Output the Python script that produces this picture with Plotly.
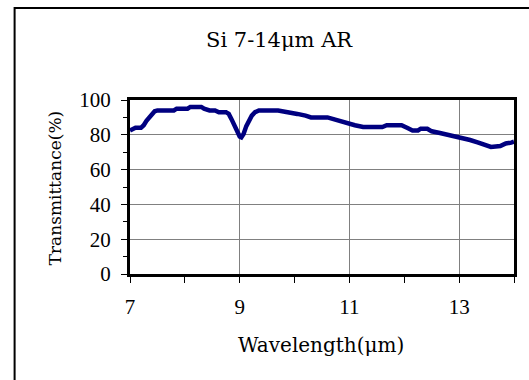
import plotly.graph_objects as go

# Transmission spectrum of an AR-coated silicon window
wavelength = [7.00, 7.05, 7.10, 7.20, 7.25, 7.30, 7.38, 7.45, 7.50, 7.80, 7.85, 8.05,
              8.10, 8.30, 8.35, 8.45, 8.55, 8.62, 8.75, 8.80, 8.85, 8.90, 8.95, 9.00,
              9.03, 9.07, 9.12, 9.17, 9.22, 9.28, 9.35, 9.70, 9.80, 9.95, 10.05, 10.20,
              10.30, 10.60, 10.70, 10.85, 11.00, 11.10, 11.25, 11.60, 11.68, 11.95, 12.05,
              12.15, 12.25, 12.30, 12.42, 12.50, 12.65, 12.80, 12.95, 13.10, 13.20, 13.35,
              13.50, 13.58, 13.75, 13.85, 13.95, 14.00]
transmittance = [82.5, 83.5, 84, 84, 85.5, 88, 91, 93.5, 94, 94, 95, 95,
                 96, 96, 95, 94, 94, 93, 93, 92, 89, 85.5, 82, 79,
                 78.5, 80.5, 85, 88.5, 91, 93, 94, 94, 93.5, 93, 92, 91,
                 90, 90, 89, 88, 86.5, 85.5, 84.5, 84.5, 85.5, 85.5, 84,
                 82.5, 82.5, 83.5, 83.5, 82, 81, 80, 78.5, 77.5, 77, 75.5,
                 74, 73, 73.5, 75, 75.5, 76]

title_text = "Si 7-14μm AR"
x_title = "Wavelength(μm)"
y_title = "Transmittance(%)"

W, H = 529, 380
L, R, T, B = 130, 13, 100, 106
pw, ph = W - L - R, H - T - B

def px(x):
    return (x - L) / pw

def py(y):
    return (H - B - y) / ph

label_font = "DejaVu Serif, Liberation Serif, serif"
serif = "Liberation Serif, Times New Roman, serif"

fig = go.Figure()
fig.add_trace(go.Scatter(
    x=wavelength, y=transmittance, mode="lines",
    line=dict(color="#000080", width=4.5), showlegend=False,
))

fig.update_layout(
    width=W, height=H,
    margin=dict(l=L, r=R, t=T, b=B, pad=0),
    paper_bgcolor="white", plot_bgcolor="white",
    xaxis=dict(
        range=[7, 14], tickvals=[7, 9, 11, 13],
        showgrid=True, gridcolor="#808080", gridwidth=1,
        showline=True, linecolor="black", linewidth=3, mirror=True,
        ticks="outside", ticklen=6, tickcolor="black", tickwidth=1,
        minor=dict(tickvals=[8, 10, 12, 14], ticks="outside", ticklen=6,
                   tickcolor="black", showgrid=False),
        tickfont=dict(family=serif, size=21, color="black"),
        ticklabelstandoff=6,
        zeroline=False,
    ),
    yaxis=dict(
        range=[0, 100], dtick=20,
        showgrid=True, gridcolor="#808080", gridwidth=1,
        showline=True, linecolor="black", linewidth=3, mirror=True,
        ticks="outside", ticklen=6, tickcolor="black", tickwidth=1,
        minor=dict(dtick=10, ticks="outside", ticklen=4,
                   tickcolor="black", showgrid=False),
        tickfont=dict(family=serif, size=21, color="black"),
        ticklabelstandoff=6,
        zeroline=False,
    ),
    shapes=[dict(
        type="rect", xref="paper", yref="paper",
        x0=px(14), x1=px(545), y0=py(395), y1=py(8),
        line=dict(color="black", width=2), fillcolor="rgba(0,0,0,0)",
        layer="below",
    )],
    annotations=[
        dict(text=title_text, xref="paper", yref="paper", x=px(280), y=py(40),
             xanchor="center", yanchor="middle", showarrow=False,
             font=dict(family=label_font, size=21, color="black")),
        dict(text=x_title, xref="paper", yref="paper", x=px(322), y=py(345),
             xanchor="center", yanchor="middle", showarrow=False,
             font=dict(family=label_font, size=20, color="black")),
        dict(text=y_title, xref="paper", yref="paper", x=px(55), y=py(188),
             xanchor="center", yanchor="middle", showarrow=False, textangle=-90,
             font=dict(family=label_font, size=17, color="black")),
    ],
)

fig.write_html("out.html")
